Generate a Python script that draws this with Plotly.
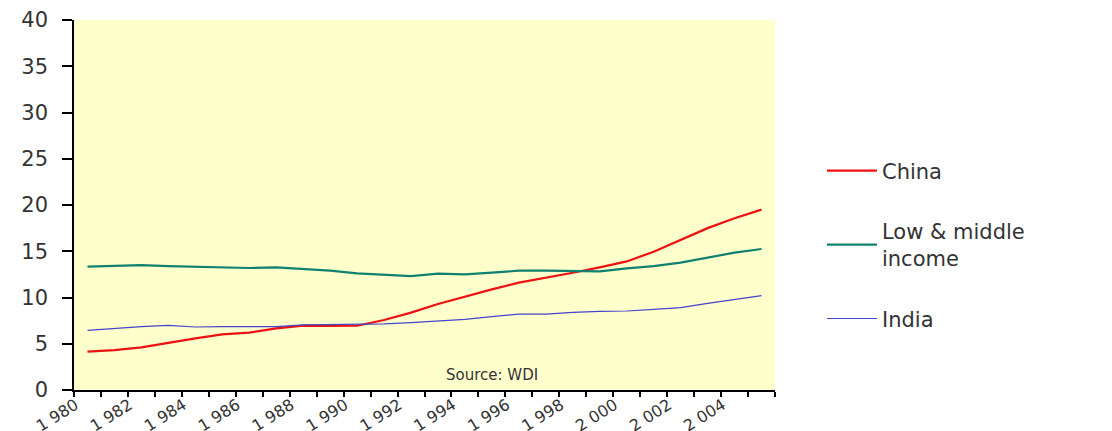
import plotly.graph_objects as go

years = list(range(1980, 2006))
china = [4.14, 4.32, 4.61, 5.12, 5.58, 6.02, 6.2, 6.67, 6.95, 6.92, 6.95, 7.57, 8.36, 9.3,
         10.1, 10.88, 11.6, 12.1, 12.68, 13.26, 13.9, 14.95, 16.2, 17.5, 18.56, 19.5]
low_middle = [13.33, 13.4, 13.5, 13.4, 13.33, 13.26, 13.19, 13.26, 13.12, 12.9, 12.6, 12.47,
              12.32, 12.58, 12.5, 12.68, 12.9, 12.9, 12.9, 12.83, 13.15, 13.4, 13.77, 14.34,
              14.85, 15.24]
india = [6.45, 6.67, 6.85, 6.99, 6.81, 6.85, 6.85, 6.85, 7.03, 7.06, 7.17, 7.14, 7.28, 7.42,
         7.64, 7.93, 8.2, 8.2, 8.4, 8.5, 8.54, 8.72, 8.9, 9.37, 9.8, 10.2]
label_years = list(range(1980, 2006, 2))
label_text = [f"{str(y)[0]} {str(y)[1:]}" for y in label_years]
y_ticks = list(range(0, 45, 5))

FONT = "DejaVu Sans"
TXT = "#333333"

fig = go.Figure()
fig.add_trace(go.Scatter(x=years, y=china, mode="lines", name="China",
                         line=dict(color="#EE1111", width=2.2), legendgroup="a"))
fig.add_trace(go.Scatter(x=years, y=low_middle, mode="lines", name="Low & middle<br>income",
                         line=dict(color="#108070", width=2.2), legendgroup="b"))
fig.add_trace(go.Scatter(x=years, y=india, mode="lines", name="India",
                         line=dict(color="#4444CC", width=1.2), legendgroup="c"))

fig.update_layout(
    width=1112, height=431,
    margin=dict(l=74, r=337, t=20, b=41, autoexpand=False),
    paper_bgcolor="white",
    plot_bgcolor="#FFFFCC",
    font=dict(family=FONT, size=18, color=TXT),
    showlegend=True,
    legend=dict(x=1.067, xanchor="left", y=0.392, yanchor="middle",
                font=dict(family=FONT, size=21, color=TXT),
                traceorder="grouped", tracegroupgap=30,
                bgcolor="rgba(0,0,0,0)", itemwidth=50),
    xaxis=dict(range=[1979.5, 2005.5], showgrid=False, zeroline=False, automargin=False,
               showline=True, linecolor="black", linewidth=1.5,
               tickmode="array", tickvals=label_years, ticktext=label_text,
               ticks="", tickangle=-32, ticklabelshift=-12, ticklabelstandoff=-2,
               tickfont=dict(family=FONT, size=16, color=TXT),
               minor=dict(tickmode="linear", tick0=1979.5, dtick=1, ticks="outside",
                          ticklen=5, tickcolor="black", tickwidth=1.5, showgrid=False)),
    yaxis=dict(range=[0, 40], showgrid=False, zeroline=False, automargin=False,
               showline=True, linecolor="black", linewidth=1.5,
               tickmode="array", tickvals=y_ticks, ticklabelstandoff=10,
               ticks="outside", ticklen=10, tickcolor="black", tickwidth=1.5,
               tickfont=dict(family=FONT, size=21, color=TXT)),
)

fig.add_annotation(x=1995, y=1.6, xref="x", yref="y", text="Source: WDI",
                   showarrow=False, font=dict(family=FONT, size=15, color=TXT))

fig.write_html("out.html", config={"displayModeBar": False},
               post_script="document.body.style.margin='0px';")
